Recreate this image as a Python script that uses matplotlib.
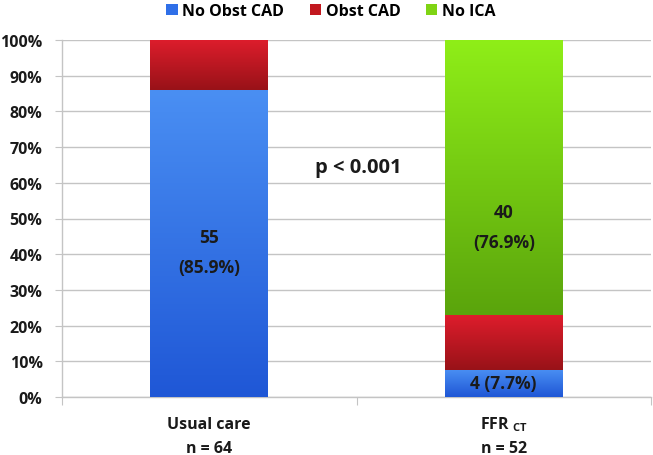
import numpy as np
import matplotlib
matplotlib.use("Agg")
import matplotlib.pyplot as plt
from matplotlib.colors import LinearSegmentedColormap
from matplotlib.patches import Patch
from matplotlib.transforms import blended_transform_factory

plt.rcParams['font.family'] = ['Open Sans', 'DejaVu Sans']
plt.rcParams['font.weight'] = 'bold'
plt.rcParams['mathtext.fontset'] = 'custom'
plt.rcParams['mathtext.rm'] = 'Open Sans:bold'
plt.rcParams['mathtext.bf'] = 'Open Sans:bold'
plt.rcParams['mathtext.it'] = 'Open Sans:bold'

groups = ["Usual care", "FFR $_{\\mathbf{CT}}$"]
group_n = [64, 52]
series = ["No Obst CAD", "Obst CAD", "No ICA"]
counts = {
    "No Obst CAD": [55, 4],
    "Obst CAD": [9, 8],
    "No ICA": [0, 40],
}
# top colour, bottom colour of each segment gradient
grad = {
    "No Obst CAD": ("#4a8ff3", "#1f57d6"),
    "Obst CAD": ("#de1d2c", "#981218"),
    "No ICA": ("#8fee18", "#5aa40c"),
}
legend_cols = {"No Obst CAD": "#2f6fe8", "Obst CAD": "#c2181f", "No ICA": "#7fd414"}

txt = "#1a1a1a"
grid_c = "#c4c4c4"

fig = plt.figure(figsize=(6.53, 4.56), dpi=100)
ax = fig.add_axes([62 / 653, 58 / 456, 589 / 653, 357 / 456])

x = np.arange(len(groups))
tot = np.array(group_n, dtype=float)
ax.set_xlim(-0.5, 1.5)
ax.set_ylim(0, 100)

bottom = np.zeros(len(groups))
for s in series:
    pct = np.array(counts[s]) / tot * 100
    bars = ax.bar(x, pct, 0.4, bottom=bottom, color="none", edgecolor="none", zorder=3)
    cmap = LinearSegmentedColormap.from_list(s, [grad[s][1], grad[s][0]])
    for b in bars:
        if b.get_height() <= 0:
            continue
        x0, y0 = b.get_x(), b.get_y()
        im = ax.imshow(np.linspace(0, 1, 256).reshape(-1, 1), cmap=cmap, origin="lower",
                       extent=[x0, x0 + b.get_width(), y0, y0 + b.get_height()],
                       aspect="auto", zorder=3, interpolation="bicubic")
        im.set_clip_path(b)
    bottom += pct

ax.set_xlim(-0.5, 1.5)
ax.set_ylim(0, 100)

# value labels
lab_kw = dict(ha="center", va="center", fontsize=12.5, color=txt, fontweight="bold", zorder=5,
              linespacing=1.85)
ax.text(0, 40.7, "55\n(85.9%)", **lab_kw)
ax.text(1, 47.7, "40\n(76.9%)", **lab_kw)
ax.text(1, 3.9, "4 (7.7%)", **lab_kw)
ax.text(0.505, 64.5, "p < 0.001", ha="center", va="center", fontsize=14.5, color=txt,
        fontweight="bold")

# axes styling
ax.set_yticks(np.arange(0, 101, 10))
ax.set_yticklabels([f"{v}%" for v in range(0, 101, 10)], fontsize=11.5, color=txt)
ax.yaxis.grid(True, color=grid_c, linewidth=1.0, zorder=0)
ax.set_axisbelow(True)
ax.tick_params(axis="y", length=5, color=grid_c, pad=9)

# category labels drawn as two separate lines
ax.set_xticks([-0.5, 0.5, 1.5])
ax.set_xticklabels([])
ax.tick_params(axis="x", length=6, color=grid_c)
tr = blended_transform_factory(ax.transData, fig.transFigure)
for i, (g, n) in enumerate(zip(groups, group_n)):
    ax.text(x[i], 1 - 429 / 456, g, transform=tr, ha="center", va="baseline",
            fontsize=11.5, color=txt, fontweight="bold")
    ax.text(x[i], 1 - 453 / 456, f"n = {n}", transform=tr, ha="center", va="baseline",
            fontsize=11.5, color=txt, fontweight="bold")

for sp in ["top", "right"]:
    ax.spines[sp].set_visible(False)
for sp in ["left", "bottom"]:
    ax.spines[sp].set_color(grid_c)
    ax.spines[sp].set_linewidth(1.0)

handles = [Patch(facecolor=legend_cols[s], edgecolor="none") for s in series]
fig.legend(handles, series, loc="center", bbox_to_anchor=(331 / 653, 1 - 12 / 456), ncol=3,
           frameon=False, fontsize=11.5, handlelength=0.7, handleheight=0.7, handletextpad=0.3,
           columnspacing=1.6, borderaxespad=0)

fig.savefig("out.png", dpi=100)
